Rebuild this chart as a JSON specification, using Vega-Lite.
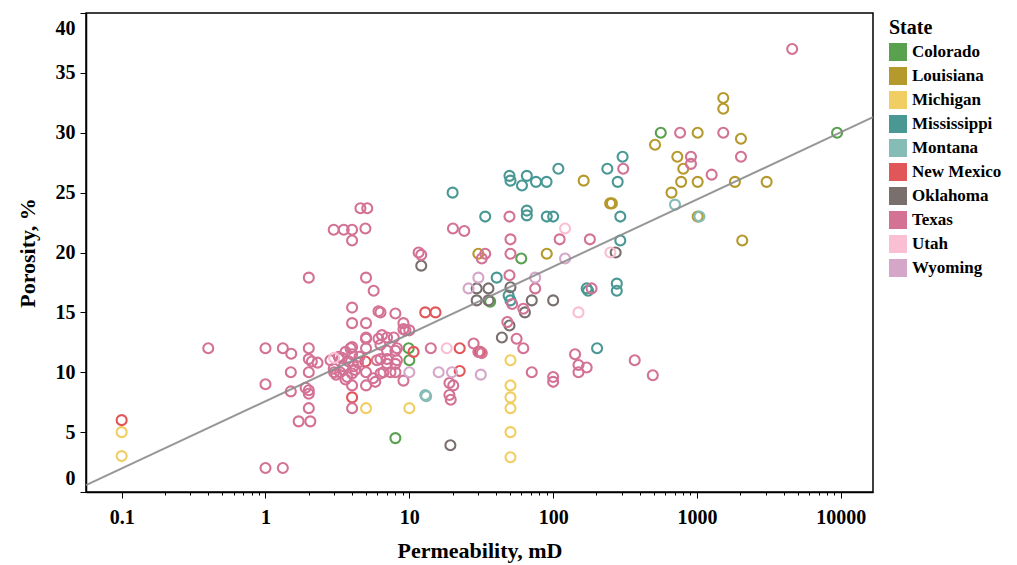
{
  "$schema": "https://vega.github.io/schema/vega-lite/v6.json",
  "width": 787,
  "height": 479,
  "autosize": {"type": "none"},
  "padding": {"left": 86, "top": 13, "right": 144, "bottom": 73},
  "background": "white",
  "config": {
    "view": {"stroke": "black", "strokeWidth": 1.5},
    "font": "Liberation Serif",
    "axis": {"grid": false, "domainColor": "black", "tickColor": "black", "labelColor": "black", "titleColor": "black", "labelFont": "Liberation Serif", "titleFont": "Liberation Serif", "labelFontWeight": "bold", "titleFontWeight": "bold", "labelFontSize": 20, "titleFontSize": 22, "domainWidth": 1.5}
  },
  "datasets": {
    "pts": [
      {"Permeability": 560, "Porosity": 30, "State": "Colorado"},
      {"Permeability": 9420, "Porosity": 30, "State": "Colorado"},
      {"Permeability": 60, "Porosity": 19.5, "State": "Colorado"},
      {"Permeability": 36.5, "Porosity": 15.9, "State": "Colorado"},
      {"Permeability": 9.9, "Porosity": 12, "State": "Colorado"},
      {"Permeability": 10, "Porosity": 11, "State": "Colorado"},
      {"Permeability": 8, "Porosity": 4.5, "State": "Colorado"},
      {"Permeability": 1523, "Porosity": 32.9, "State": "Louisiana"},
      {"Permeability": 1523, "Porosity": 32, "State": "Louisiana"},
      {"Permeability": 511, "Porosity": 29, "State": "Louisiana"},
      {"Permeability": 1011, "Porosity": 30, "State": "Louisiana"},
      {"Permeability": 2022, "Porosity": 29.5, "State": "Louisiana"},
      {"Permeability": 730, "Porosity": 28, "State": "Louisiana"},
      {"Permeability": 803, "Porosity": 27, "State": "Louisiana"},
      {"Permeability": 776, "Porosity": 25.9, "State": "Louisiana"},
      {"Permeability": 1011, "Porosity": 25.9, "State": "Louisiana"},
      {"Permeability": 1836, "Porosity": 25.9, "State": "Louisiana"},
      {"Permeability": 3049, "Porosity": 25.9, "State": "Louisiana"},
      {"Permeability": 665, "Porosity": 25, "State": "Louisiana"},
      {"Permeability": 1011, "Porosity": 23, "State": "Louisiana"},
      {"Permeability": 2064, "Porosity": 21, "State": "Louisiana"},
      {"Permeability": 163, "Porosity": 26, "State": "Louisiana"},
      {"Permeability": 249, "Porosity": 24.1, "State": "Louisiana"},
      {"Permeability": 256, "Porosity": 24.1, "State": "Louisiana"},
      {"Permeability": 30.2, "Porosity": 19.9, "State": "Louisiana"},
      {"Permeability": 90.3, "Porosity": 19.9, "State": "Louisiana"},
      {"Permeability": 0.1, "Porosity": 5, "State": "Michigan"},
      {"Permeability": 0.1, "Porosity": 3, "State": "Michigan"},
      {"Permeability": 5, "Porosity": 7, "State": "Michigan"},
      {"Permeability": 10, "Porosity": 7, "State": "Michigan"},
      {"Permeability": 50.5, "Porosity": 11, "State": "Michigan"},
      {"Permeability": 50.5, "Porosity": 8.9, "State": "Michigan"},
      {"Permeability": 50.5, "Porosity": 7.9, "State": "Michigan"},
      {"Permeability": 50.5, "Porosity": 7, "State": "Michigan"},
      {"Permeability": 50.5, "Porosity": 5, "State": "Michigan"},
      {"Permeability": 50.5, "Porosity": 2.9, "State": "Michigan"},
      {"Permeability": 20, "Porosity": 25, "State": "Mississippi"},
      {"Permeability": 33.7, "Porosity": 23, "State": "Mississippi"},
      {"Permeability": 49.7, "Porosity": 26.4, "State": "Mississippi"},
      {"Permeability": 50.5, "Porosity": 26, "State": "Mississippi"},
      {"Permeability": 60.7, "Porosity": 25.6, "State": "Mississippi"},
      {"Permeability": 65.6, "Porosity": 26.4, "State": "Mississippi"},
      {"Permeability": 76, "Porosity": 25.9, "State": "Mississippi"},
      {"Permeability": 90, "Porosity": 25.9, "State": "Mississippi"},
      {"Permeability": 108.7, "Porosity": 27, "State": "Mississippi"},
      {"Permeability": 65.6, "Porosity": 23.5, "State": "Mississippi"},
      {"Permeability": 65.6, "Porosity": 23.1, "State": "Mississippi"},
      {"Permeability": 90.3, "Porosity": 23, "State": "Mississippi"},
      {"Permeability": 100, "Porosity": 23, "State": "Mississippi"},
      {"Permeability": 238, "Porosity": 27, "State": "Mississippi"},
      {"Permeability": 281, "Porosity": 25.9, "State": "Mississippi"},
      {"Permeability": 304, "Porosity": 28, "State": "Mississippi"},
      {"Permeability": 293, "Porosity": 23, "State": "Mississippi"},
      {"Permeability": 293, "Porosity": 21, "State": "Mississippi"},
      {"Permeability": 40.5, "Porosity": 17.9, "State": "Mississippi"},
      {"Permeability": 49, "Porosity": 16.4, "State": "Mississippi"},
      {"Permeability": 50.5, "Porosity": 16, "State": "Mississippi"},
      {"Permeability": 171, "Porosity": 17, "State": "Mississippi"},
      {"Permeability": 175, "Porosity": 16.8, "State": "Mississippi"},
      {"Permeability": 277, "Porosity": 17.4, "State": "Mississippi"},
      {"Permeability": 277, "Porosity": 16.8, "State": "Mississippi"},
      {"Permeability": 202, "Porosity": 12, "State": "Mississippi"},
      {"Permeability": 703, "Porosity": 24, "State": "Montana"},
      {"Permeability": 1040, "Porosity": 23, "State": "Montana"},
      {"Permeability": 12.9, "Porosity": 8.1, "State": "Montana"},
      {"Permeability": 13.1, "Porosity": 8.0, "State": "Montana"},
      {"Permeability": 0.1, "Porosity": 6, "State": "New Mexico"},
      {"Permeability": 4, "Porosity": 7.9, "State": "New Mexico"},
      {"Permeability": 4.95, "Porosity": 10.9, "State": "New Mexico"},
      {"Permeability": 10.7, "Porosity": 11.7, "State": "New Mexico"},
      {"Permeability": 12.9, "Porosity": 15, "State": "New Mexico"},
      {"Permeability": 15.2, "Porosity": 15, "State": "New Mexico"},
      {"Permeability": 22.4, "Porosity": 12, "State": "New Mexico"},
      {"Permeability": 31, "Porosity": 11.7, "State": "New Mexico"},
      {"Permeability": 22.4, "Porosity": 10.1, "State": "New Mexico"},
      {"Permeability": 12.1, "Porosity": 18.9, "State": "Oklahoma"},
      {"Permeability": 29.4, "Porosity": 17, "State": "Oklahoma"},
      {"Permeability": 35.5, "Porosity": 17, "State": "Oklahoma"},
      {"Permeability": 50.5, "Porosity": 17.1, "State": "Oklahoma"},
      {"Permeability": 29.4, "Porosity": 16, "State": "Oklahoma"},
      {"Permeability": 35.5, "Porosity": 16, "State": "Oklahoma"},
      {"Permeability": 71, "Porosity": 16, "State": "Oklahoma"},
      {"Permeability": 100, "Porosity": 16, "State": "Oklahoma"},
      {"Permeability": 63.6, "Porosity": 15, "State": "Oklahoma"},
      {"Permeability": 49.7, "Porosity": 13.9, "State": "Oklahoma"},
      {"Permeability": 44, "Porosity": 12.9, "State": "Oklahoma"},
      {"Permeability": 19.3, "Porosity": 3.9, "State": "Oklahoma"},
      {"Permeability": 272, "Porosity": 20, "State": "Oklahoma"},
      {"Permeability": 0.4, "Porosity": 12, "State": "Texas"},
      {"Permeability": 1, "Porosity": 12, "State": "Texas"},
      {"Permeability": 1.32, "Porosity": 12, "State": "Texas"},
      {"Permeability": 1.51, "Porosity": 11.55, "State": "Texas"},
      {"Permeability": 1, "Porosity": 9, "State": "Texas"},
      {"Permeability": 1, "Porosity": 2, "State": "Texas"},
      {"Permeability": 1.32, "Porosity": 2, "State": "Texas"},
      {"Permeability": 1.5, "Porosity": 10, "State": "Texas"},
      {"Permeability": 1.5, "Porosity": 8.4, "State": "Texas"},
      {"Permeability": 1.9, "Porosity": 8.7, "State": "Texas"},
      {"Permeability": 2.0, "Porosity": 8.5, "State": "Texas"},
      {"Permeability": 2.0, "Porosity": 8.2, "State": "Texas"},
      {"Permeability": 2.0, "Porosity": 12, "State": "Texas"},
      {"Permeability": 2.0, "Porosity": 11.1, "State": "Texas"},
      {"Permeability": 2.1, "Porosity": 10.9, "State": "Texas"},
      {"Permeability": 2.3, "Porosity": 10.8, "State": "Texas"},
      {"Permeability": 2.0, "Porosity": 10, "State": "Texas"},
      {"Permeability": 2.0, "Porosity": 7, "State": "Texas"},
      {"Permeability": 1.7, "Porosity": 5.9, "State": "Texas"},
      {"Permeability": 2.05, "Porosity": 5.9, "State": "Texas"},
      {"Permeability": 2.0, "Porosity": 17.9, "State": "Texas"},
      {"Permeability": 4.57, "Porosity": 23.7, "State": "Texas"},
      {"Permeability": 5.1, "Porosity": 23.7, "State": "Texas"},
      {"Permeability": 2.98, "Porosity": 21.9, "State": "Texas"},
      {"Permeability": 3.5, "Porosity": 21.9, "State": "Texas"},
      {"Permeability": 4.0, "Porosity": 21.9, "State": "Texas"},
      {"Permeability": 4.95, "Porosity": 22, "State": "Texas"},
      {"Permeability": 4.0, "Porosity": 21, "State": "Texas"},
      {"Permeability": 5, "Porosity": 17.9, "State": "Texas"},
      {"Permeability": 5.65, "Porosity": 16.8, "State": "Texas"},
      {"Permeability": 4.0, "Porosity": 15.4, "State": "Texas"},
      {"Permeability": 6.1, "Porosity": 15.1, "State": "Texas"},
      {"Permeability": 6.3, "Porosity": 15, "State": "Texas"},
      {"Permeability": 8.0, "Porosity": 14.9, "State": "Texas"},
      {"Permeability": 4.0, "Porosity": 14.1, "State": "Texas"},
      {"Permeability": 5.0, "Porosity": 14.1, "State": "Texas"},
      {"Permeability": 5.0, "Porosity": 12.9, "State": "Texas"},
      {"Permeability": 9.1, "Porosity": 14.1, "State": "Texas"},
      {"Permeability": 9.1, "Porosity": 13.6, "State": "Texas"},
      {"Permeability": 9.4, "Porosity": 13.5, "State": "Texas"},
      {"Permeability": 10, "Porosity": 13.5, "State": "Texas"},
      {"Permeability": 11.6, "Porosity": 20, "State": "Texas"},
      {"Permeability": 2.83, "Porosity": 11, "State": "Texas"},
      {"Permeability": 2.98, "Porosity": 10.3, "State": "Texas"},
      {"Permeability": 3.0, "Porosity": 10, "State": "Texas"},
      {"Permeability": 3.1, "Porosity": 9.8, "State": "Texas"},
      {"Permeability": 3.23, "Porosity": 11.3, "State": "Texas"},
      {"Permeability": 3.3, "Porosity": 10, "State": "Texas"},
      {"Permeability": 3.5, "Porosity": 10.5, "State": "Texas"},
      {"Permeability": 3.6, "Porosity": 11.7, "State": "Texas"},
      {"Permeability": 3.7, "Porosity": 9.6, "State": "Texas"},
      {"Permeability": 3.8, "Porosity": 10.9, "State": "Texas"},
      {"Permeability": 3.9, "Porosity": 12, "State": "Texas"},
      {"Permeability": 4.0, "Porosity": 9.9, "State": "Texas"},
      {"Permeability": 4.0, "Porosity": 11.5, "State": "Texas"},
      {"Permeability": 4.1, "Porosity": 10.5, "State": "Texas"},
      {"Permeability": 4.2, "Porosity": 10.2, "State": "Texas"},
      {"Permeability": 4.4, "Porosity": 10.8, "State": "Texas"},
      {"Permeability": 3.4, "Porosity": 11.2, "State": "Texas"},
      {"Permeability": 4.0, "Porosity": 12.1, "State": "Texas"},
      {"Permeability": 4.0, "Porosity": 8.9, "State": "Texas"},
      {"Permeability": 4.0, "Porosity": 7.0, "State": "Texas"},
      {"Permeability": 3.6, "Porosity": 9.4, "State": "Texas"},
      {"Permeability": 4.5, "Porosity": 11.3, "State": "Texas"},
      {"Permeability": 5, "Porosity": 12.8, "State": "Texas"},
      {"Permeability": 5, "Porosity": 12, "State": "Texas"},
      {"Permeability": 5, "Porosity": 10, "State": "Texas"},
      {"Permeability": 5, "Porosity": 8.9, "State": "Texas"},
      {"Permeability": 5.6, "Porosity": 9.5, "State": "Texas"},
      {"Permeability": 5.8, "Porosity": 9.2, "State": "Texas"},
      {"Permeability": 6.1, "Porosity": 12.8, "State": "Texas"},
      {"Permeability": 6.45, "Porosity": 13.1, "State": "Texas"},
      {"Permeability": 6.3, "Porosity": 12.3, "State": "Texas"},
      {"Permeability": 5.95, "Porosity": 11, "State": "Texas"},
      {"Permeability": 6.3, "Porosity": 11.1, "State": "Texas"},
      {"Permeability": 7.0, "Porosity": 11.1, "State": "Texas"},
      {"Permeability": 7.4, "Porosity": 10, "State": "Texas"},
      {"Permeability": 6.6, "Porosity": 10, "State": "Texas"},
      {"Permeability": 8.2, "Porosity": 12, "State": "Texas"},
      {"Permeability": 8.2, "Porosity": 11, "State": "Texas"},
      {"Permeability": 8.0, "Porosity": 10, "State": "Texas"},
      {"Permeability": 9.1, "Porosity": 9.3, "State": "Texas"},
      {"Permeability": 7.0, "Porosity": 12.9, "State": "Texas"},
      {"Permeability": 7.8, "Porosity": 12.9, "State": "Texas"},
      {"Permeability": 7.0, "Porosity": 11.8, "State": "Texas"},
      {"Permeability": 8.0, "Porosity": 11.8, "State": "Texas"},
      {"Permeability": 7.0, "Porosity": 10.7, "State": "Texas"},
      {"Permeability": 8.0, "Porosity": 10.7, "State": "Texas"},
      {"Permeability": 6.3, "Porosity": 9.9, "State": "Texas"},
      {"Permeability": 14.1, "Porosity": 12, "State": "Texas"},
      {"Permeability": 28, "Porosity": 12.4, "State": "Texas"},
      {"Permeability": 30.2, "Porosity": 11.7, "State": "Texas"},
      {"Permeability": 31.9, "Porosity": 11.6, "State": "Texas"},
      {"Permeability": 19, "Porosity": 9.1, "State": "Texas"},
      {"Permeability": 20.2, "Porosity": 8.9, "State": "Texas"},
      {"Permeability": 19, "Porosity": 8.1, "State": "Texas"},
      {"Permeability": 19.4, "Porosity": 7.7, "State": "Texas"},
      {"Permeability": 20.1, "Porosity": 22, "State": "Texas"},
      {"Permeability": 24.1, "Porosity": 21.8, "State": "Texas"},
      {"Permeability": 49.7, "Porosity": 23, "State": "Texas"},
      {"Permeability": 50.5, "Porosity": 21.1, "State": "Texas"},
      {"Permeability": 111, "Porosity": 21.1, "State": "Texas"},
      {"Permeability": 180, "Porosity": 21.1, "State": "Texas"},
      {"Permeability": 12.1, "Porosity": 19.8, "State": "Texas"},
      {"Permeability": 33.7, "Porosity": 19.9, "State": "Texas"},
      {"Permeability": 31.9, "Porosity": 19.5, "State": "Texas"},
      {"Permeability": 50.5, "Porosity": 19.9, "State": "Texas"},
      {"Permeability": 49.7, "Porosity": 18.1, "State": "Texas"},
      {"Permeability": 75, "Porosity": 17, "State": "Texas"},
      {"Permeability": 51.9, "Porosity": 15.7, "State": "Texas"},
      {"Permeability": 62, "Porosity": 15.3, "State": "Texas"},
      {"Permeability": 48, "Porosity": 14.2, "State": "Texas"},
      {"Permeability": 55.7, "Porosity": 12.8, "State": "Texas"},
      {"Permeability": 62, "Porosity": 12, "State": "Texas"},
      {"Permeability": 71, "Porosity": 10, "State": "Texas"},
      {"Permeability": 100, "Porosity": 9.6, "State": "Texas"},
      {"Permeability": 100, "Porosity": 9.2, "State": "Texas"},
      {"Permeability": 185, "Porosity": 17, "State": "Texas"},
      {"Permeability": 307, "Porosity": 27, "State": "Texas"},
      {"Permeability": 142, "Porosity": 11.5, "State": "Texas"},
      {"Permeability": 150, "Porosity": 10.6, "State": "Texas"},
      {"Permeability": 171, "Porosity": 10.4, "State": "Texas"},
      {"Permeability": 150, "Porosity": 10, "State": "Texas"},
      {"Permeability": 369, "Porosity": 11, "State": "Texas"},
      {"Permeability": 493, "Porosity": 9.75, "State": "Texas"},
      {"Permeability": 4590, "Porosity": 37, "State": "Texas"},
      {"Permeability": 763, "Porosity": 30, "State": "Texas"},
      {"Permeability": 1523, "Porosity": 30, "State": "Texas"},
      {"Permeability": 908, "Porosity": 28, "State": "Texas"},
      {"Permeability": 908, "Porosity": 27.4, "State": "Texas"},
      {"Permeability": 2022, "Porosity": 28, "State": "Texas"},
      {"Permeability": 1265, "Porosity": 26.5, "State": "Texas"},
      {"Permeability": 18.2, "Porosity": 12, "State": "Utah"},
      {"Permeability": 150, "Porosity": 15, "State": "Utah"},
      {"Permeability": 250, "Porosity": 20, "State": "Utah"},
      {"Permeability": 3, "Porosity": 11.2, "State": "Utah"},
      {"Permeability": 121, "Porosity": 22, "State": "Utah"},
      {"Permeability": 30.2, "Porosity": 17.9, "State": "Wyoming"},
      {"Permeability": 75, "Porosity": 17.9, "State": "Wyoming"},
      {"Permeability": 25.8, "Porosity": 17, "State": "Wyoming"},
      {"Permeability": 121, "Porosity": 19.5, "State": "Wyoming"},
      {"Permeability": 16, "Porosity": 10, "State": "Wyoming"},
      {"Permeability": 19.8, "Porosity": 10, "State": "Wyoming"},
      {"Permeability": 31.4, "Porosity": 9.8, "State": "Wyoming"},
      {"Permeability": 10, "Porosity": 10, "State": "Wyoming"}
    ],
    "fit": [
      {"Permeability": 0.0565, "Porosity": 0.58},
      {"Permeability": 16740, "Porosity": 31.3}
    ]
  },
  "encoding": {
    "x": {
      "field": "Permeability", "type": "quantitative",
      "scale": {"type": "log", "domain": [0.0565, 16740], "nice": false},
      "axis": {
        "title": "Permeability, mD",
        "values": [0.1, 0.2, 0.3, 0.4, 0.5, 0.6, 0.7, 0.8, 0.9, 1, 2, 3, 4, 5, 6, 7, 8, 9, 10, 20, 30, 40, 50, 60, 70, 80, 90, 100, 200, 300, 400, 500, 600, 700, 800, 900, 1000, 2000, 3000, 4000, 5000, 6000, 7000, 8000, 9000, 10000],
        "labelExpr": "indexof([0.1,1,10,100,1000,10000], datum.value) >= 0 ? toString(datum.value) : ''",
        "labelOverlap": false,
        "labelFlush": false,
        "tickSize": {"condition": {"test": "indexof([0.1,1,10,100,1000,10000], datum.value) >= 0", "value": 6}, "value": 3},
        "labelPadding": 9,
        "titlePadding": 13
      }
    },
    "y": {
      "field": "Porosity", "type": "quantitative",
      "scale": {"domain": [0, 40], "nice": false, "zero": false},
      "axis": {
        "title": "Porosity, %",
        "values": [0, 5, 10, 15, 20, 25, 30, 35, 40],
        "tickSize": 6,
        "labelFlush": false,
        "labelOffset": {"condition": [{"test": "datum.value == 40", "value": 15}, {"test": "datum.value == 0", "value": -14}], "value": 0},
        "labelPadding": 5,
        "titlePadding": 16
      }
    }
  },
  "layer": [
    {
      "data": {"name": "pts"},
      "mark": {"type": "square", "filled": true, "opacity": 0, "size": 1},
      "encoding": {
        "color": {
          "field": "State", "type": "nominal",
          "scale": {
            "domain": ["Colorado", "Louisiana", "Michigan", "Mississippi", "Montana", "New Mexico", "Oklahoma", "Texas", "Utah", "Wyoming"],
            "range": ["#59A14F", "#B6992D", "#F1CE63", "#499894", "#86BCB6", "#E15759", "#79706E", "#D37295", "#FABFD2", "#D4A6C8"]
          },
          "legend": {
            "title": "State",
            "orient": "none",
            "legendX": 803,
            "legendY": 5,
            "symbolType": "square",
            "symbolSize": 324,
            "symbolStrokeWidth": 0,
            "symbolOpacity": 1,
            "titleFont": "Liberation Serif",
            "titleFontSize": 20,
            "titleFontWeight": "bold",
            "titleColor": "black",
            "titlePadding": 5,
            "labelFont": "Liberation Serif",
            "labelFontSize": 17,
            "labelFontWeight": "bold",
            "labelColor": "black",
            "labelOffset": 5,
            "rowPadding": 6
          }
        }
      }
    },
    {
      "data": {"name": "pts"},
      "mark": {"type": "point", "shape": "circle", "filled": false, "size": 100, "strokeWidth": 2.1, "opacity": 1},
      "encoding": {
        "color": {"field": "State", "type": "nominal", "legend": null}
      }
    },
    {
      "data": {"name": "fit"},
      "mark": {"type": "line", "color": "#8c8c8c", "strokeWidth": 2, "opacity": 0.9},
      "encoding": {}
    }
  ]
}
